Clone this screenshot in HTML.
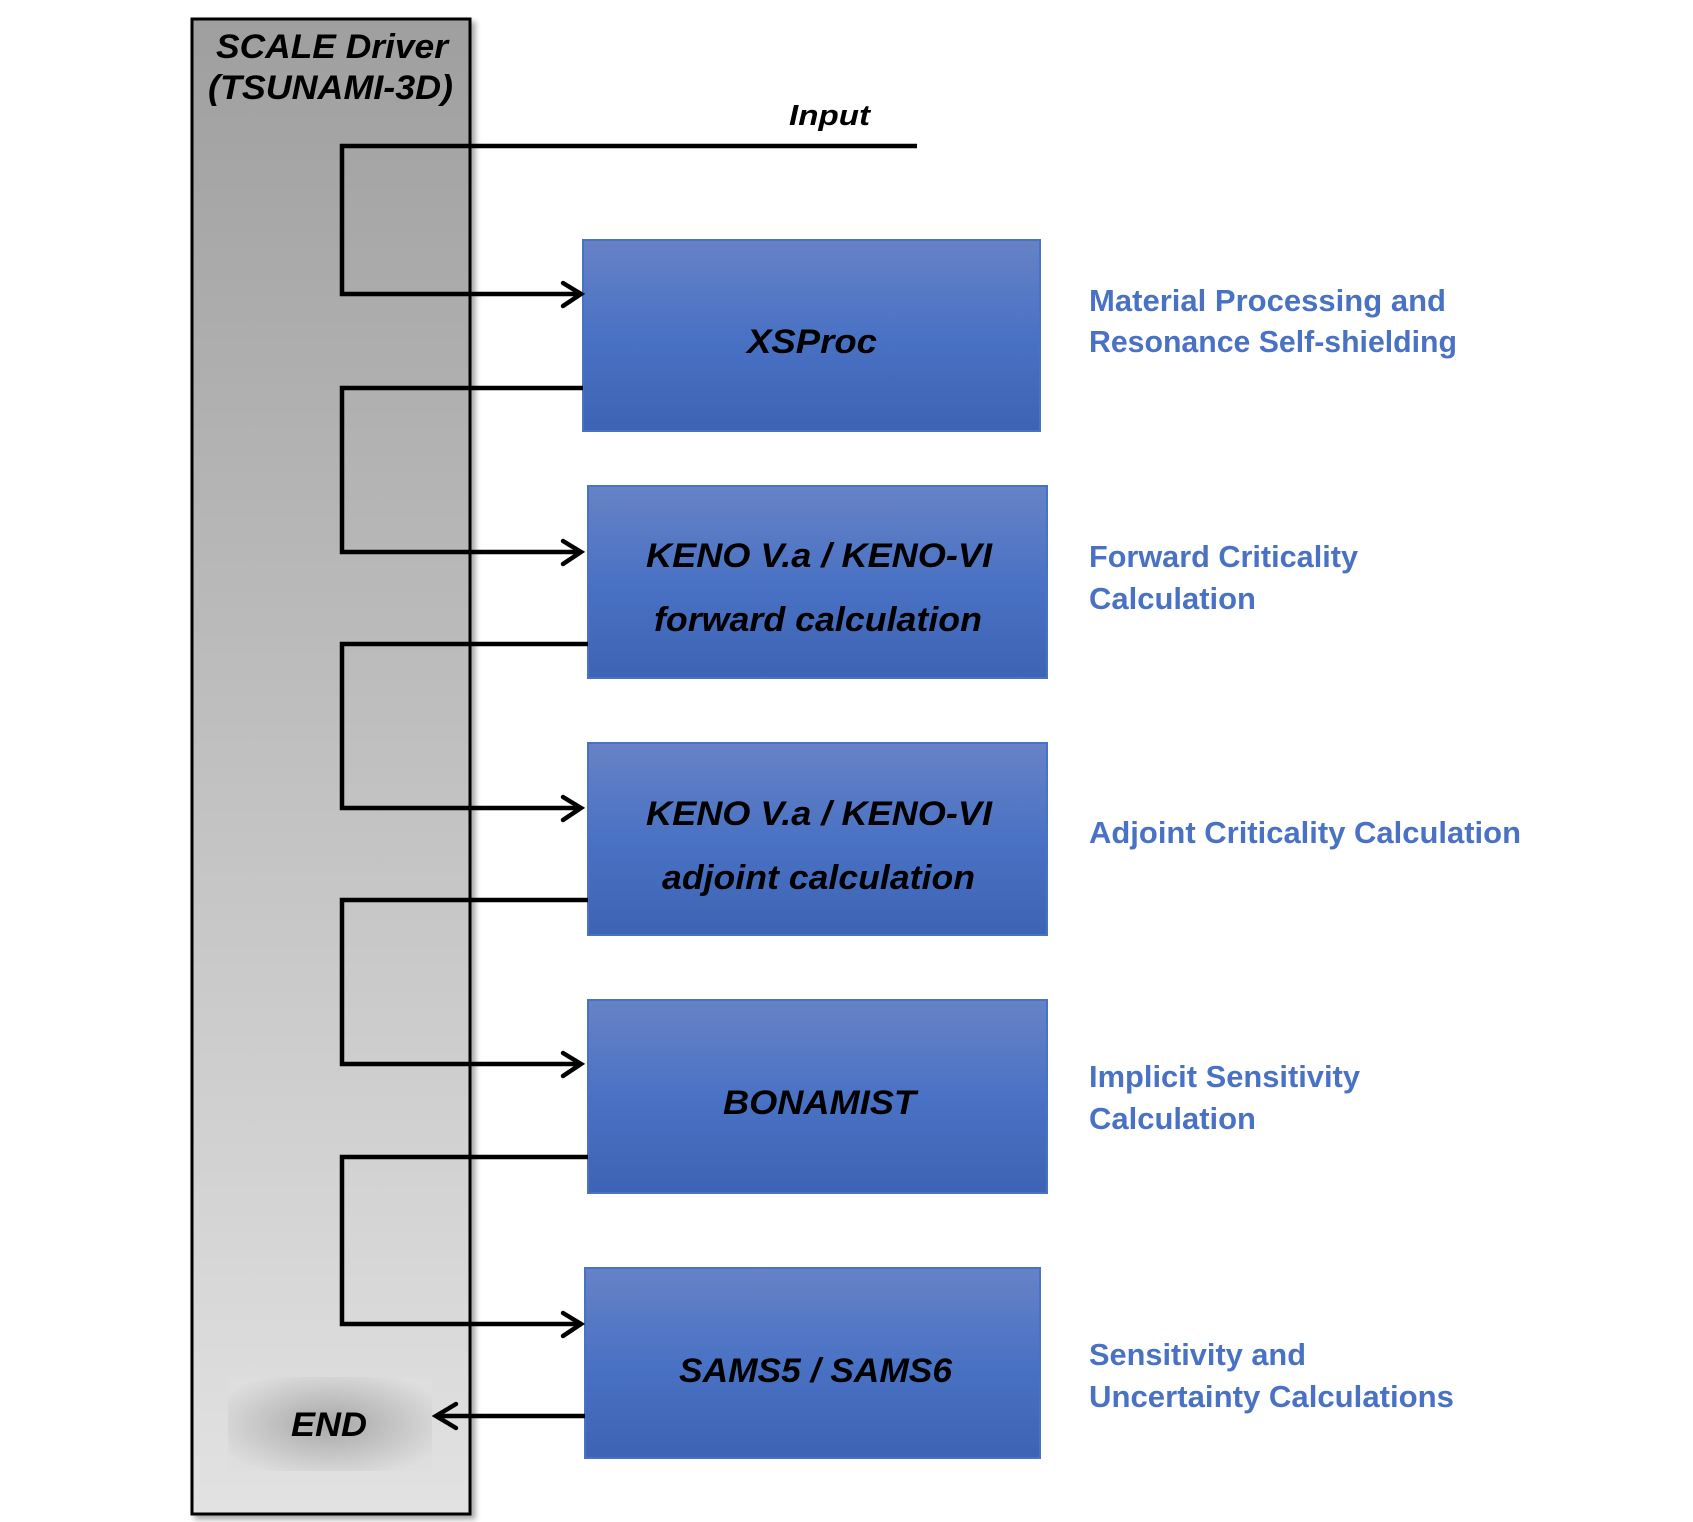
<!DOCTYPE html>
<html><head><meta charset="utf-8"><style>
html,body{margin:0;padding:0;background:#fff;}
svg{display:block;}
</style></head><body>
<svg width="1693" height="1522" viewBox="0 0 1693 1522" xmlns="http://www.w3.org/2000/svg">
<defs>
<linearGradient id="pan" x1="0" y1="0" x2="0" y2="1">
<stop offset="0" stop-color="#9f9f9f"/><stop offset="1" stop-color="#e2e2e2"/>
</linearGradient>
<linearGradient id="blu" x1="0" y1="0" x2="0" y2="1">
<stop offset="0" stop-color="#6782c6"/><stop offset="0.5" stop-color="#4a72c4"/><stop offset="1" stop-color="#3d63b4"/>
</linearGradient>
<radialGradient id="endg" cx="0.5" cy="0.5" r="0.6">
<stop offset="0" stop-color="#a8a8a8"/><stop offset="1" stop-color="#dedede"/>
</radialGradient>
<filter id="sh" x="-10%" y="-5%" width="130%" height="110%"><feDropShadow dx="4" dy="4" stdDeviation="3" flood-opacity="0.35"/></filter>
</defs>
<rect x="192" y="19" width="278" height="1495" fill="url(#pan)" stroke="#000" stroke-width="3" filter="url(#sh)"/>
<g font-family="Liberation Sans, sans-serif" font-weight="bold" font-style="italic" fill="#000">
<text x="216" y="58" font-size="34" textLength="232" lengthAdjust="spacingAndGlyphs">SCALE Driver</text>
<text x="208" y="99" font-size="34" textLength="245" lengthAdjust="spacingAndGlyphs">(TSUNAMI-3D)</text>
<text x="789" y="125" font-size="29" textLength="81" lengthAdjust="spacingAndGlyphs">Input</text>
</g>
<rect x="228" y="1377" width="204" height="94" fill="url(#endg)"/>
<text x="291" y="1436" font-family="Liberation Sans, sans-serif" font-weight="bold" font-style="italic" font-size="34" textLength="76" lengthAdjust="spacingAndGlyphs">END</text>
<g stroke="#4a72c4" stroke-width="2" fill="url(#blu)">
<rect x="583" y="240" width="457" height="191"/>
<rect x="588" y="486" width="459" height="192"/>
<rect x="588" y="743" width="459" height="192"/>
<rect x="588" y="1000" width="459" height="193"/>
<rect x="585" y="1268" width="455" height="190"/>
</g>
<g font-family="Liberation Sans, sans-serif" font-weight="bold" font-style="italic" font-size="34" fill="#000">
<text x="747" y="353" textLength="130" lengthAdjust="spacingAndGlyphs">XSProc</text>
<text x="646" y="567" textLength="346" lengthAdjust="spacingAndGlyphs">KENO V.a / KENO-VI</text>
<text x="654" y="631" textLength="328" lengthAdjust="spacingAndGlyphs">forward calculation</text>
<text x="646" y="825" textLength="346" lengthAdjust="spacingAndGlyphs">KENO V.a / KENO-VI</text>
<text x="662" y="889" textLength="313" lengthAdjust="spacingAndGlyphs">adjoint calculation</text>
<text x="723" y="1114" textLength="193" lengthAdjust="spacingAndGlyphs">BONAMIST</text>
<text x="679" y="1382" textLength="273" lengthAdjust="spacingAndGlyphs">SAMS5 / SAMS6</text>
</g>
<g stroke="#000" stroke-width="4.5" fill="none">
<polyline points="917,146 342,146 342,294 581,294"/>
<polyline points="583,388 342,388 342,552 581,552"/>
<polyline points="588,644 342,644 342,808 581,808"/>
<polyline points="588,900 342,900 342,1064 581,1064"/>
<polyline points="588,1157 342,1157 342,1324 581,1324"/>
<line x1="585" y1="1416" x2="437" y2="1416"/>
</g>
<g stroke="#000" stroke-width="4.5" fill="none" stroke-linecap="round">
<polyline points="563,283 581,294 563,306"/>
<polyline points="563,541 581,552 563,564"/>
<polyline points="563,797 581,808 563,820"/>
<polyline points="563,1053 581,1064 563,1076"/>
<polyline points="563,1313 581,1324 563,1336"/>
<polyline points="456,1404 436,1416 456,1428"/>
</g>
<g font-family="Liberation Sans, sans-serif" font-weight="bold" font-size="31" fill="#4a72c4">
<text x="1089" y="311" textLength="357" lengthAdjust="spacingAndGlyphs">Material Processing and</text>
<text x="1089" y="352" textLength="368" lengthAdjust="spacingAndGlyphs">Resonance Self-shielding</text>
<text x="1089" y="567" textLength="269" lengthAdjust="spacingAndGlyphs">Forward Criticality</text>
<text x="1089" y="609" textLength="167" lengthAdjust="spacingAndGlyphs">Calculation</text>
<text x="1089" y="843" textLength="432" lengthAdjust="spacingAndGlyphs">Adjoint Criticality Calculation</text>
<text x="1089" y="1087" textLength="271" lengthAdjust="spacingAndGlyphs">Implicit Sensitivity</text>
<text x="1089" y="1129" textLength="167" lengthAdjust="spacingAndGlyphs">Calculation</text>
<text x="1089" y="1365" textLength="217" lengthAdjust="spacingAndGlyphs">Sensitivity and</text>
<text x="1089" y="1407" textLength="365" lengthAdjust="spacingAndGlyphs">Uncertainty Calculations</text>
</g>
</svg>
</body></html>
